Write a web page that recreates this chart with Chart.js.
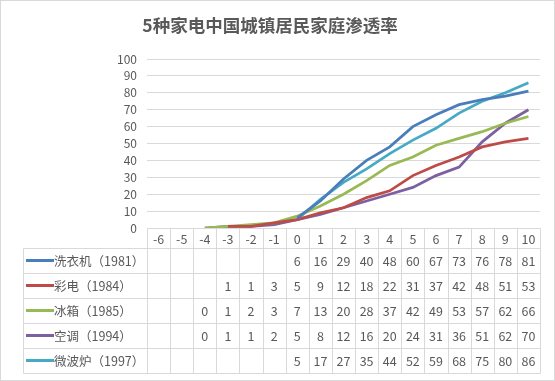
<!DOCTYPE html>
<html>
<head>
<meta charset="utf-8">
<script src="https://cdn.jsdelivr.net/npm/chart.js@4"></script>
<style>
  body { margin: 0; background: #fff; }
  #wrap { width: 555px; height: 381px; }
</style>
</head>
<body>
<div id="wrap"><canvas id="penetrationChart" width="555" height="381"></canvas></div>
<script>
// categories: years relative to launch
const categories = ['-6','-5','-4','-3','-2','-1','0','1','2','3','4','5','6','7','8','9','10'];
const seriesNames = ['洗衣机（1981）', '彩电（1984）', '冰箱（1985）', '空调（1994）', '微波炉（1997）'];
const seriesColors = ['#4a7ebb', '#be4b48', '#98b954', '#7d60a0', '#46aac5'];

const washer    = [null, null, null, null, null, null, 6, 16, 29, 40, 48, 60, 67, 73, 76, 78, 81];
const colorTv   = [null, null, null, 1, 1, 3, 5, 9, 12, 18, 22, 31, 37, 42, 48, 51, 53];
const fridge    = [null, null, 0, 1, 2, 3, 7, 13, 20, 28, 37, 42, 49, 53, 57, 62, 66];
const aircon    = [null, null, 0, 1, 1, 2, 5, 8, 12, 16, 20, 24, 31, 36, 51, 62, 70];
const microwave = [null, null, null, null, null, null, 5, 17, 27, 35, 44, 52, 59, 68, 75, 80, 86];

const yTicks = [0, 10, 20, 30, 40, 50, 60, 70, 80, 90, 100];

const allSeries = [washer, colorTv, fridge, aircon, microwave];
const FONT = '"Noto Sans CJK SC", "Open Sans", sans-serif';
const TEXT = '#595959';
const GRID = '#d9d9d9';

// draws the data table (with legend keys) under the plot, using the x scale for columns
const tablePlugin = {
    id: 'dataTable',
    afterDraw(chart) {
        const ctx = chart.ctx;
        const x = chart.scales.x;
        const area = chart.chartArea;
        const half = (x.getPixelForValue(1) - x.getPixelForValue(0)) / 2;
        const tableLeft = 23;
        const headerH = 20;
        const rowH = 25;
        const top = Math.round(area.bottom);
        const px = v => Math.round(v) + 0.5;

        ctx.save();
        ctx.strokeStyle = GRID;
        ctx.lineWidth = 1;
        ctx.fillStyle = TEXT;
        ctx.font = '12.5px ' + FONT;
        ctx.textAlign = 'center';
        ctx.textBaseline = 'middle';

        const rowsBottom = top + headerH + rowH * allSeries.length;

        // horizontal lines
        ctx.beginPath();
        ctx.moveTo(px(area.left), px(top));
        ctx.lineTo(px(area.right), px(top));
        for (let r = 0; r <= allSeries.length; r++) {
            const y = px(top + headerH + rowH * r);
            ctx.moveTo(tableLeft + 0.5, y);
            ctx.lineTo(px(area.right), y);
        }
        // vertical lines
        for (let i = 0; i <= categories.length; i++) {
            const cx = px(x.getPixelForValue(0) - half + 2 * half * i);
            ctx.moveTo(cx, px(top));
            ctx.lineTo(cx, px(rowsBottom));
        }
        ctx.moveTo(tableLeft + 0.5, px(top + headerH));
        ctx.lineTo(tableLeft + 0.5, px(rowsBottom));
        ctx.stroke();

        // header labels
        categories.forEach((c, i) => {
            ctx.fillText(c, x.getPixelForValue(i), top + headerH / 2 + 1);
        });

        // rows
        allSeries.forEach((data, r) => {
            const cy = top + headerH + rowH * r + rowH / 2 + 1;
            ctx.strokeStyle = seriesColors[r];
            ctx.lineWidth = 3;
            ctx.beginPath();
            ctx.moveTo(tableLeft + 3, cy - 1);
            ctx.lineTo(tableLeft + 31, cy - 1);
            ctx.stroke();
            ctx.textAlign = 'left';
            ctx.fillText(seriesNames[r], tableLeft + 31, cy);
            ctx.textAlign = 'center';
            data.forEach((v, i) => {
                if (v !== null) ctx.fillText(String(v), x.getPixelForValue(i), cy);
            });
        });

        // outer frame
        ctx.strokeStyle = GRID;
        ctx.lineWidth = 1;
        ctx.strokeRect(0.5, 0.5, chart.width - 1, chart.height - 1);
        ctx.restore();
    }
};

const ctx = document.getElementById('penetrationChart').getContext('2d');
new Chart(ctx, {
    type: 'line',
    data: {
        labels: categories,
        datasets: allSeries.map((d, i) => ({
            label: seriesNames[i],
            data: d,
            borderColor: seriesColors[i],
            backgroundColor: seriesColors[i],
            borderWidth: 2.75,
            pointRadius: 0,
            tension: 0,
            spanGaps: false
        }))
    },
    options: {
        responsive: false,
        animation: false,
        layout: { padding: { top: 0, right: 15, bottom: 153, left: 0 } },
        plugins: {
            legend: { display: false },
            tooltip: { enabled: false },
            title: {
                display: true,
                text: '5种家电中国城镇居民家庭渗透率',
                color: TEXT,
                font: { family: FONT, size: 17.5, weight: 'bold' },
                padding: { top: 15, bottom: 23 }
            }
        },
        scales: {
            x: {
                display: false,
                offset: true
            },
            y: {
                min: 0,
                max: 100,
                afterFit: s => { s.width = 147; },
                afterBuildTicks: s => { s.ticks = yTicks.map(v => ({ value: v })); },
                border: { display: false },
                grid: { color: GRID, drawTicks: false },
                ticks: { color: TEXT, padding: 10, autoSkip: false, font: { family: FONT, size: 12 } }
            }
        }
    },
    plugins: [tablePlugin]
});
</script>
</body>
</html>
